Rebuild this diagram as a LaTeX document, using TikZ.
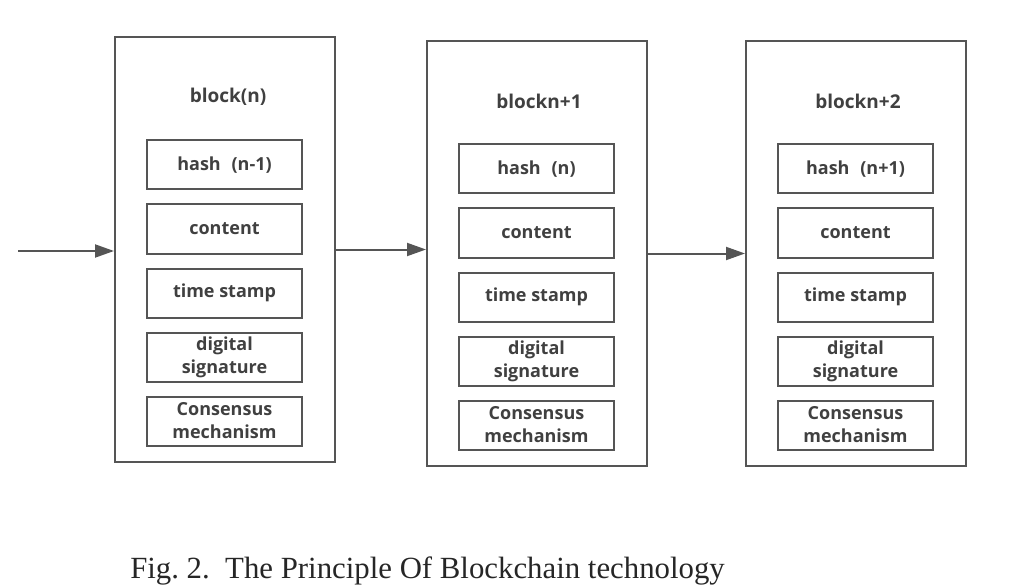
\documentclass[tikz,border=0pt]{standalone}
\usepackage{fontspec}
\setmainfont{Liberation Serif}
\newfontfamily\blockfont{Open Sans}
\usetikzlibrary{arrows.meta, positioning}
\definecolor{linegray}{HTML}{555555}
\definecolor{textgray}{HTML}{404040}
\tikzset{
    chaindiagram/.style={>={Triangle[length=19pt, width=13pt]}, line width=2pt, draw=linegray, node distance=13pt},
    blockbox/.style={draw=linegray, line width=2pt, minimum width=220pt, minimum height=425pt},
    blocktitle/.style={font=\blockfont\bfseries\fontsize{19}{22}\selectfont, text=textgray},
    field/.style={draw=linegray, line width=2pt, minimum width=155pt, minimum height=49pt,
        align=center, inner sep=0pt, font=\blockfont\bfseries\fontsize{18}{23}\selectfont, text=textgray},
    link/.style={->, draw=linegray, line width=2pt},
    input/.style={coordinate},
}

\begin{document}
\begin{tikzpicture}[chaindiagram, x=1pt, y=-1pt]
    \useasboundingbox (0,0) rectangle (1036,588);

    % block n
    \node[blockbox]            (b1)  at (225,249.5) {};
    \node[blocktitle]          (t1)  at (228,97)    {block(n)};
    \node[field]               (h1)  at (224.5,165) {hash\hspace{0.6em}(n-1)};
    \node[field, below=of h1]  (c1)  {content};
    \node[field, below=of c1]  (s1)  {time stamp};
    \node[field, below=of s1]  (d1)  {digital\\signature};
    \node[field, below=of d1]  (m1)  {Consensus\\mechanism};

    % block n+1
    \node[blockbox]            (b2)  at (537,253.5) {};
    \node[blocktitle]          (t2)  at (539,101)   {blockn+1};
    \node[field]               (h2)  at (536.5,169) {hash\hspace{0.6em}(n)};
    \node[field, below=of h2]  (c2)  {content};
    \node[field, below=of c2]  (s2)  {time stamp};
    \node[field, below=of s2]  (d2)  {digital\\signature};
    \node[field, below=of d2]  (m2)  {Consensus\\mechanism};

    % block n+2
    \node[blockbox]            (b3)  at (856,253.5) {};
    \node[blocktitle]          (t3)  at (858,101)   {blockn+2};
    \node[field]               (h3)  at (855.5,169) {hash\hspace{0.6em}(n+1)};
    \node[field, below=of h3]  (c3)  {content};
    \node[field, below=of c3]  (s3)  {time stamp};
    \node[field, below=of s3]  (d3)  {digital\\signature};
    \node[field, below=of d3]  (m3)  {Consensus\\mechanism};

    \node[input] (in) at (18,251) {};

    \draw[link] (in) -- (in -| b1.west);
    \draw[link] (b1.east) -- (b1.east -| b2.west);
    \draw[link] (b2.east) -- (b3.west);

    \node[anchor=base, font=\fontsize{30.8}{35}\selectfont, text=black!85] (cap) at (427.5,578)
        {Fig.~2.\hspace{0.5em}The Principle Of Blockchain technology};
\end{tikzpicture}
\end{document}
